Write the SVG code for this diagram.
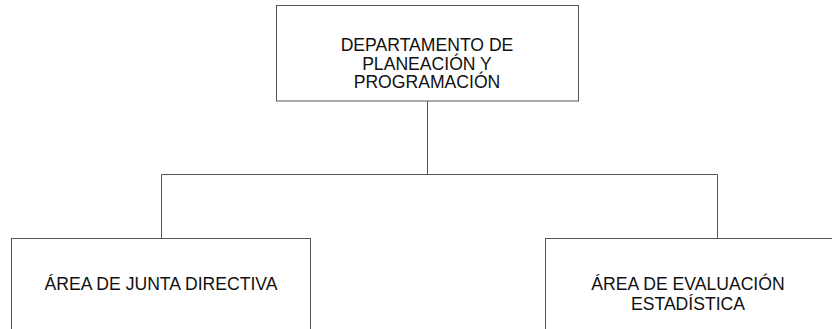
<svg xmlns="http://www.w3.org/2000/svg" width="832" height="329" viewBox="0 0 832 329">
<style>
.box{fill:#fff;stroke:#555;stroke-width:1}
.ln{fill:none;stroke:#555;stroke-width:1}
text{font-family:"Liberation Sans",Arial,sans-serif;font-size:17.6px;fill:#111;text-anchor:middle}
</style>
<rect width="832" height="329" fill="#fff"/>
<g id="connectors">
<path class="ln" d="M427.5 101V174.5M161.5 174.5H717.5M161.5 174.5V238M717.5 174.5V238"/>
</g>
<g id="top">
<rect class="box" x="276.5" y="5.5" width="302" height="95.5"/>
<text x="427" y="51">DEPARTAMENTO DE</text>
<text x="427" y="69.5">PLANEACIÓN Y</text>
<text x="427" y="88">PROGRAMACIÓN</text>
</g>
<g id="left">
<rect class="box" x="11.5" y="238.5" width="299" height="100"/>
<text x="161" y="290">ÁREA DE JUNTA DIRECTIVA</text>
</g>
<g id="right">
<rect class="box" x="545.5" y="238.5" width="300" height="100"/>
<text x="688" y="290">ÁREA DE EVALUACIÓN</text>
<text x="688" y="310">ESTADÍSTICA</text>
</g>
</svg>
